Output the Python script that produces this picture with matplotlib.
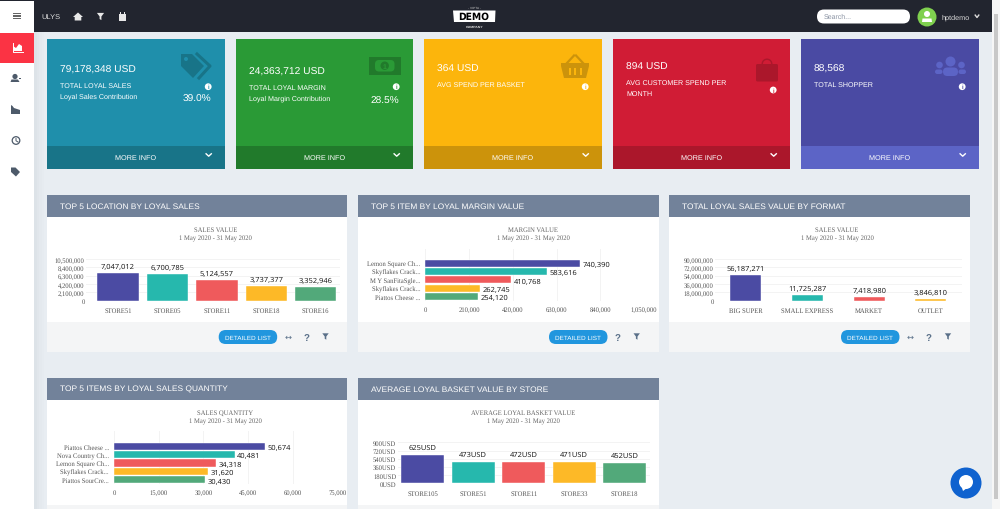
import matplotlib
matplotlib.use("Agg")
import matplotlib.pyplot as plt
from matplotlib.patches import Rectangle, Circle, Polygon, FancyBboxPatch, Wedge

plt.rcParams["text.hinting"] = "no_hinting"

# ---- chart data ----
location_stores = ["STORE51", "STORE05", "STORE11", "STORE18", "STORE16"]
location_sales = [7047012, 6700785, 5124557, 3737377, 3352946]
location_ticks = [0, 2100000, 4200000, 6300000, 8400000, 10500000]

margin_items = ["Lemon Square Ch...", "Skyflakes Crack...", "M Y SanFitaSgle...", "Skyflakes Crack...", "Piattos Cheese ..."]
margin_values = [740390, 583616, 410768, 262745, 254120]
margin_ticks = [0, 210000, 420000, 630000, 840000, 1050000]

format_names = ["BIG SUPER", "SMALL EXPRESS", "MARKET", "OUTLET"]
format_sales = [56187271, 11725287, 7418980, 3846810]
format_ticks = [0, 18000000, 36000000, 54000000, 72000000, 90000000]

qty_items = ["Piattos Cheese ...", "Nova Country Ch...", "Lemon Square Ch...", "Skyflakes Crack...", "Piattos SourCre..."]
qty_values = [50674, 40481, 34318, 31620, 30430]
qty_ticks = [0, 15000, 30000, 45000, 60000, 75000]

basket_stores = ["STORE105", "STORE51", "STORE11", "STORE33", "STORE18"]
basket_values = [625, 473, 472, 471, 452]
basket_ticks = [0, 180, 360, 540, 720, 900]

# kpi card texts
kpi_values = ["79,178,348 USD", "24,363,712 USD", "364 USD", "894 USD", "88,568"]
kpi_labels = ["TOTAL LOYAL SALES", "TOTAL LOYAL MARGIN", "AVG SPEND PER BASKET",
              "AVG CUSTOMER SPEND PER\nMONTH", "TOTAL SHOPPER"]
kpi_subs = ["Loyal Sales Contribution", "Loyal Margin Contribution", "", "", ""]
kpi_pcts = ["39.0%", "28.5%", "", "", ""]

# ---- colours ----
BAR_COLORS = ["#4b4ba3", "#26b8ad", "#ef5a5c", "#fdb927", "#52a97a"]
CARD_COLORS = ["#1f8fab", "#2a9a36", "#fcb50c", "#d01c35", "#4a4aa3"]
FOOT_COLORS = ["#187488", "#217a2b", "#cc930b", "#ab172b", "#5c64c6"]
BG = "#e8edf2"
DARK = "#22252f"
HEAD = "#72829a"
GRID = "#f3f3f3"
SANS = "Liberation Sans"
SERIF = "Liberation Serif"
LABEL = "Open Sans"

W, H = 1000, 510
fig = plt.figure(figsize=(W / 100, H / 100), dpi=100, facecolor=BG)

# whole-figure axes in pixels for the page around the charts
page = fig.add_axes([0, 0, 1, 1])
page.set_xlim(0, W)
page.set_ylim(H, 0)
page.axis("off")


def rect(x0, y0, x1, y1, color, z=1):
    page.add_patch(Rectangle((x0, y0), x1 - x0, y1 - y0, facecolor=color, edgecolor="none", zorder=z))


def txt(x, y, s, size=5.2, color="white", ha="left", family=SANS, weight="normal", z=5):
    page.text(x, y, s, fontsize=size, color=color, ha=ha, va="center", family=family, weight=weight, zorder=z)


def poly(points, color, z=4):
    page.add_patch(Polygon(points, closed=True, facecolor=color, edgecolor="none", zorder=z))


def circle(x, y, r, color, z=4):
    page.add_patch(Circle((x, y), r, facecolor=color, edgecolor="none", zorder=z))


def pill(x0, y0, x1, y1, color, z=4):
    r = (y1 - y0) / 2
    page.add_patch(FancyBboxPatch((x0, y0), x1 - x0, y1 - y0, boxstyle=f"round,pad=0,rounding_size={r}",
                                  facecolor=color, edgecolor="none", zorder=z))


def funnel(x, y, s, color):
    poly([(x - s, y - s), (x + s, y - s), (x + s * 0.25, y), (x + s * 0.25, y + s),
          (x - s * 0.25, y + s * 0.7), (x - s * 0.25, y)], color)


def chevron(x, y, color="white", s=2.6):
    page.plot([x - s, x, x + s], [y - 1.2, y + 1.2, y - 1.2], color=color, lw=1.0, zorder=5)


def info(x, y, color):
    circle(x, y, 3.4, "white")
    txt(x, y, "i", size=4.2, color=color, ha="center", weight="bold", z=6)


def tag(x, y, s, color):
    poly([(x - s, y - s), (x, y - s), (x + s, y), (x + 0.1 * s, y + s), (x - s, y)], color)


# ---- sidebar and top bar ----
rect(0, 0, W, 2, DARK)
rect(0, 2, 34, H, "white", 2)
rect(34, 2, 992, 33, DARK, 2)
rect(992, 0, W, H, "#f6f6f6", 2)
rect(993.5, 15, 998, 500, "#c8c8c8", 3)
rect(0, 34, 34, 64, "#fb3344", 3)
# soft shadow next to the sidebar
for k, shade in enumerate(["#dde3e8", "#e1e6eb", "#e4e9ee", "#e6ebf0"]):
    rect(34 + k * 2.5, 33, 36.5 + k * 2.5, H, shade, 1.5)

for yy in [14.8, 17, 19.2]:
    rect(13, yy - 0.6, 21, yy + 0.6, "#666666", 4)
# active chart icon
poly([(13, 52), (13, 47), (16, 49), (19, 45), (22, 47), (22, 52)], "white")
page.plot([13, 13, 22.5], [44, 52.6, 52.6], color="white", lw=0.7, zorder=5)
# person icon
circle(15, 77.5, 2.6, "#4d5a6a")
poly([(10.5, 83), (11.5, 80.5), (18, 80.5), (19.5, 83)], "#4d5a6a")
rect(18.5, 78.5, 21, 79.6, "#4d5a6a", 4)
# area icon
poly([(11, 106), (12.5, 107), (14, 109), (17, 110), (20, 111), (20, 115), (11, 115)], "#4d5a6a")
# history icon
page.add_patch(Circle((16, 141.5), 3.8, facecolor="none", edgecolor="#4d5a6a", lw=0.9, zorder=4))
page.plot([16, 16, 18], [139.5, 141.8, 143], color="#4d5a6a", lw=0.7, zorder=5)
# tag icon
tag(15.5, 173, 4.5, "#4d5a6a")

txt(41, 17.5, "ULYS", size=5.4, color="#dcdcdc")
# home
poly([(78, 13.5), (83, 18), (81.3, 18), (81.3, 21.5), (74.7, 21.5), (74.7, 18), (73, 18)], "#e8e8e8")
funnel(100.5, 17.5, 3.6, "#e8e8e8")
# calendar
rect(118.8, 15, 125.8, 21.5, "#e8e8e8", 4)
rect(120, 13.4, 121, 15, "#e8e8e8", 4)
rect(123.6, 13.4, 124.6, 15, "#e8e8e8", 4)

# logo
poly([(453, 11.5), (495.5, 11.5), (495, 23), (454, 23)], "white")
page.text(474, 17.3, "DEMO", fontsize=7.4, color="black", ha="center", va="center", family="DejaVu Sans",
          stretch="condensed", weight="bold", zorder=6)
txt(474.5, 8, "- VIPTA -", size=2.3, color="#cccccc", ha="center")
txt(474.5, 27.3, "COMPANY", size=2.5, color="#dddddd", ha="center", weight="bold")

pill(817, 10.5, 910, 24.5, "white")
txt(823.5, 17.5, "Search...", size=5.0, color="#8a93a3")
circle(927, 18, 9.5, "#7fd04f")
circle(927, 15, 3, "white", 5)
poly([(922, 23), (922.5, 19.5), (931.5, 19.5), (932, 23)], "white", 5)
txt(942, 17.5, "hptdemo", size=5.2, color="#dcdcdc")
chevron(977, 17.3, "#dcdcdc", 1.8)

# ---- kpi cards ----
card_x0 = [47, 236, 424, 613, 801]
card_x1 = [225, 413, 602, 790, 979]
text_y = [70, 72, 69.5, 67, 69.5]
for i in range(5):
    x0, x1 = card_x0[i], card_x1[i]
    rect(x0, 40, x1, 147, CARD_COLORS[i], 2)
    rect(x0, 147, x1, 170, FOOT_COLORS[i], 2)
    txt(x0 + 13, text_y[i], kpi_values[i], size=7.4)
    if "\n" in kpi_labels[i]:
        first, second = kpi_labels[i].split("\n")
        txt(x0 + 13, text_y[i] + 16, first, size=5.15)
        txt(x0 + 13, text_y[i] + 27, second, size=5.15)
    else:
        txt(x0 + 13, text_y[i] + 16, kpi_labels[i], size=5.15)
    if kpi_subs[i]:
        txt(x0 + 13, text_y[i] + 27, kpi_subs[i], size=5.15)
        txt(x1 - 13.5, text_y[i] + 29.5, kpi_pcts[i], size=7.3, ha="right")
    info(x1 - 16.8, 91 if i == 3 else 87.7, CARD_COLORS[i])
    txt((x0 + x1) / 2, 158, "MORE INFO", size=5.25, ha="center")
    chevron(x1 - 16.3, 156)

# card icons, drawn in the footer colour
poly([(181, 55), (192, 55), (204, 67), (193, 79), (181, 67)], FOOT_COLORS[0])
circle(186, 60, 2.0, CARD_COLORS[0], 5)
page.plot([197, 210, 199], [55, 67, 79], color=FOOT_COLORS[0], lw=2.2, zorder=4)
rect(369, 57.5, 400.5, 76, FOOT_COLORS[1], 4)
page.add_patch(FancyBboxPatch((375, 61), 19.5, 11.5, boxstyle="round,pad=0,rounding_size=4",
                              facecolor=CARD_COLORS[1], edgecolor="none", zorder=5))
circle(384.7, 66.7, 4.2, FOOT_COLORS[1], 6)
txt(384.7, 66.7, "1", size=5, color=CARD_COLORS[1], ha="center", weight="bold", z=7)
poly([(561, 64), (589, 64), (589, 67), (586, 79), (564, 79), (561, 67)], FOOT_COLORS[2])
page.plot([567, 574], [64, 56.5], color=FOOT_COLORS[2], lw=1.6, zorder=4)
page.plot([583, 576], [64, 56.5], color=FOOT_COLORS[2], lw=1.6, zorder=4)
for bx in [569.5, 575, 580.5]:
    rect(bx - 1, 69, bx + 1, 76, CARD_COLORS[2], 5)
page.add_patch(FancyBboxPatch((756, 65), 22, 17.5, boxstyle="round,pad=0,rounding_size=1.5",
                              facecolor=FOOT_COLORS[3], edgecolor="none", zorder=4))
page.add_patch(Wedge((767, 65), 5.5, 180, 360, width=1.4, facecolor=FOOT_COLORS[3], edgecolor="none", zorder=4))
for px, py, r in [(950.5, 62.5, 5), (939.5, 66, 3.3), (961.5, 66, 3.3)]:
    circle(px, py, r, FOOT_COLORS[4])
pill(943, 68.5, 958, 77, FOOT_COLORS[4])
pill(935, 70.5, 942.5, 75, FOOT_COLORS[4])
pill(958.5, 70.5, 966, 75, FOOT_COLORS[4])

# ---- panels ----
panel_titles = ["TOP 5 LOCATION BY LOYAL SALES", "TOP 5 ITEM BY LOYAL MARGIN VALUE",
                "TOTAL LOYAL SALES VALUE BY FORMAT", "TOP 5 ITEMS BY LOYAL SALES QUANTITY",
                "AVERAGE LOYAL BASKET VALUE BY STORE"]
panel_x0 = [47, 358, 669, 47, 358]
panel_x1 = [347, 659, 970, 347, 659]
panel_y = [196, 196, 196, 379, 379]
chart_titles = ["SALES VALUE", "MARGIN VALUE", "SALES VALUE", "SALES QUANTITY", "AVERAGE LOYAL BASKET VALUE"]
chart_cx = [215.7, 533, 837, 225, 523]
for i in range(5):
    x0, x1, y0 = panel_x0[i], panel_x1[i], panel_y[i]
    rect(x0, y0, x1, y0 + 22, HEAD, 2)
    rect(x0, y0 + 22, x1, y0 + 127, "white", 2)
    rect(x0, y0 + 127, x1, y0 + 157, "#f4f5f6", 2)
    txt(x0 + 13, y0 + 10.8, panel_titles[i], size=6.05)
    txt(chart_cx[i], y0 + 34, chart_titles[i], size=4.75, color="#666666", ha="center", family=SERIF)
    txt(chart_cx[i], y0 + 42.7, "1 May 2020 - 31 May 2020", size=4.75, color="#666666", ha="center", family=SERIF)


def footer(pill_x, y, arrow_x, help_x, filter_x):
    pill(pill_x, y - 7, pill_x + 58.5, y + 7, "#2196de", 3)
    txt(pill_x + 29.2, y, "DETAILED LIST", size=4.6, ha="center")
    if arrow_x:
        txt(arrow_x, y, "\u2194", size=6, color="#5a7089", ha="center", family="DejaVu Sans")
    txt(help_x, y, "?", size=7, color="#5a7089", ha="center", weight="bold")
    funnel(filter_x, y - 0.5, 3.2, "#5a7089")


footer(218.7, 338, 288, 307, 325.5)
footer(549, 338, None, 617.7, 636.7)
footer(841, 338, 910, 929, 948)

# chat bubble
circle(966, 484, 15.5, "#0f62cf", 6)
circle(966, 483, 7, "white", 7)
poly([(961, 486), (963, 492), (967, 489)], "white", 7)


def chart_axes(x0, y0, x1, y1):
    # pixel box (y down) to a matplotlib axes
    ax = fig.add_axes([x0 / W, 1 - y1 / H, (x1 - x0) / W, (y1 - y0) / H])
    ax.patch.set_alpha(0)
    for s in ax.spines.values():
        s.set_visible(False)
    ax.tick_params(length=0)
    ax.set_axisbelow(True)
    return ax


def tick_fonts(ax, pad_x, pad_y):
    ax.tick_params(axis="x", pad=pad_x)
    ax.tick_params(axis="y", pad=pad_y)
    for t in ax.get_xticklabels() + ax.get_yticklabels():
        t.set_fontfamily(SERIF)
        t.set_fontsize(4.75)
        t.set_color("#555555")


def column_chart(box, names, values, ticks, tick_labels, labels, width, left_gap):
    ax = chart_axes(*box)
    pos = range(len(names))
    bars = ax.bar(pos, values, width=width, color=BAR_COLORS[:len(names)], edgecolor="white", linewidth=0.3)
    ax.set_xlim(-0.5 - left_gap, len(names) - 0.5)
    ax.set_ylim(0, ticks[-1])
    ax.set_xticks(list(pos), names)
    ax.set_yticks(ticks, tick_labels)
    ax.yaxis.grid(True, color=GRID, lw=0.7)
    tick_fonts(ax, 4.6, 1.0)
    for b, lab in zip(bars, labels):
        ax.annotate(lab, (b.get_x() + b.get_width() / 2, b.get_height()), xytext=(0, 3.0),
                    textcoords="offset points", ha="center", va="bottom", fontsize=5.4,
                    family=LABEL, color="#111111", annotation_clip=False)
    return ax


def bar_chart(box, names, values, ticks, labels, top_gap):
    ax = chart_axes(*box)
    pos = range(len(names))
    ax.barh(pos, values, height=0.86, color=BAR_COLORS, edgecolor="white", linewidth=0.3)
    ax.set_ylim(len(names) - 0.5, -0.5 - top_gap)
    ax.set_xlim(0, ticks[-1])
    ax.set_yticks(list(pos), names)
    ax.set_xticks(ticks, [f"{t:,}" for t in ticks])
    ax.xaxis.grid(True, color=GRID, lw=0.7)
    tick_fonts(ax, 4.0, 3.6)
    for p, v, lab in zip(pos, values, labels):
        ax.annotate(lab, (v, p), xytext=(2, 0), textcoords="offset points", ha="left", va="center",
                    fontsize=5.4, family=LABEL, color="#111111", annotation_clip=False)
    return ax


column_chart((86, 260, 340.4, 301.7), location_stores, location_sales, location_ticks,
             [f"{t:,}" for t in location_ticks], [f"{v:,}" for v in location_sales], 0.84, 0.15)
bar_chart((425.3, 250, 644, 301.7), margin_items, margin_values, margin_ticks,
          [f"{v:,}" for v in margin_values], 1.2)
column_chart((715, 260, 961.7, 301.7), format_names, format_sales, format_ticks,
             [f"{t:,}" for t in format_ticks], [f"{v:,}" for v in format_sales], 0.5, 0.0)
bar_chart((114, 432.3, 337.3, 485), qty_items, qty_values, qty_ticks,
          [f"{v:,}" for v in qty_values], 1.3)
column_chart((397.5, 443.3, 650, 484.3), basket_stores, basket_values, basket_ticks,
             [f"{t}USD" for t in basket_ticks], [f"{v}USD" for v in basket_values], 0.85, 0.0)

fig.savefig("out.png", dpi=100, facecolor=BG)
